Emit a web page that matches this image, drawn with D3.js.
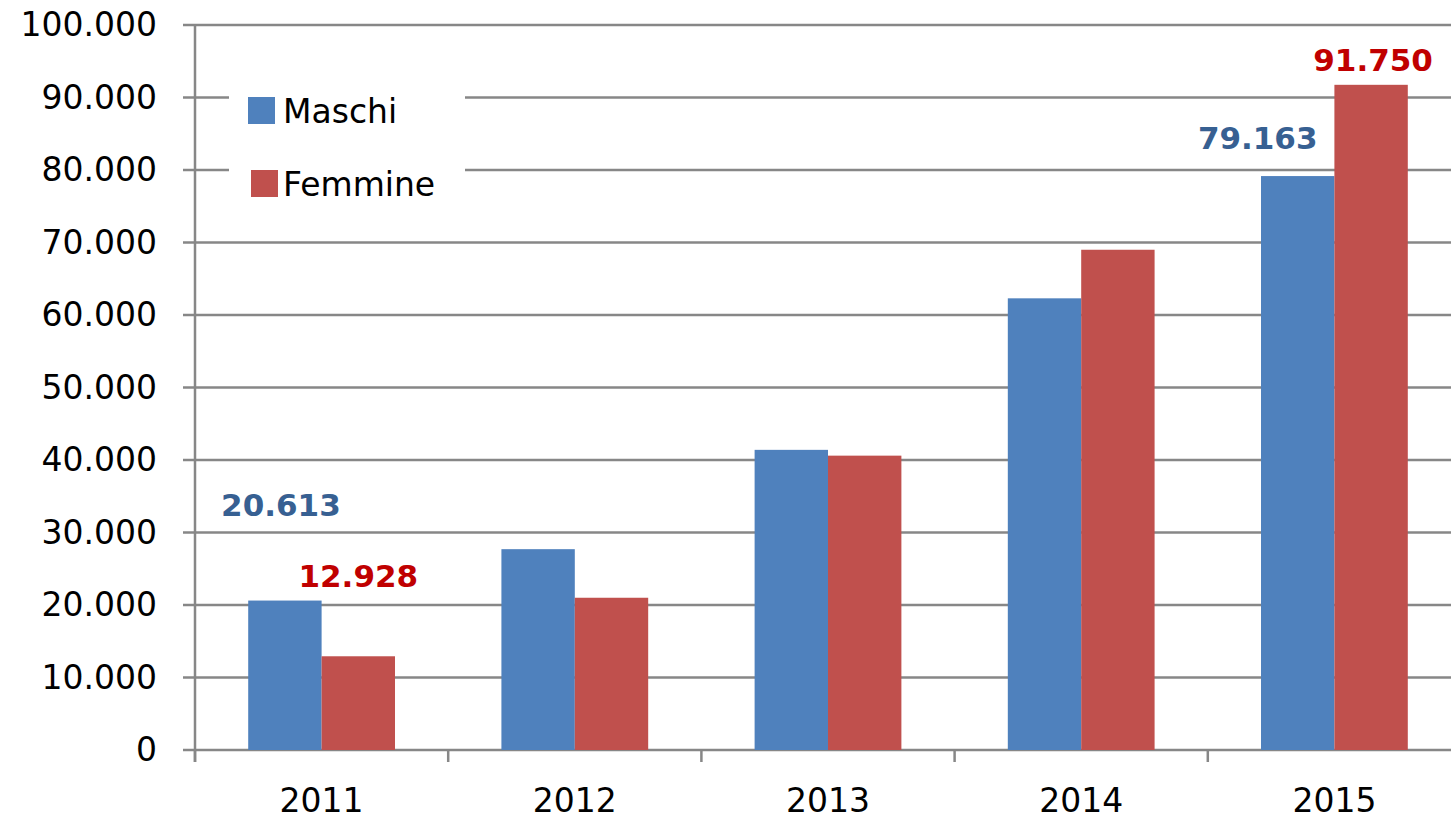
<!DOCTYPE html>
<html>
<head>
<meta charset="utf-8">
<title>Maschi / Femmine 2011-2015</title>
<script src="https://cdnjs.cloudflare.com/ajax/libs/d3/7.8.5/d3.min.js"></script>
<style>
	body { margin: 0; background: #fff; }
	svg { display: block; font-family: "DejaVu Sans", sans-serif; }
</style>
</head>
<body>
<svg id="chart" width="1451" height="821"></svg>
<script>

	var years = ["2011", "2012", "2013", "2014", "2015"];
	var maschi = [20613, 27700, 41400, 62300, 79163];
	var femmine = [12928, 21000, 40600, 69000, 91750];
	var seriesNames = ["Maschi", "Femmine"];
	var yTicks = [0, 10000, 20000, 30000, 40000, 50000, 60000, 70000, 80000, 90000, 100000];

	// values shown as labels: [series index, year index]
	var labelled = [[0, 0], [1, 0], [0, 4], [1, 4]];

	var colors = ["#4F81BD", "#C0504D"];
	var labelColors = ["#376092", "#C00000"];
	var gridColor = "#878787";

	var svg = d3.select("#chart"),
		margin = {top: 25, right: -10, bottom: 71, left: 195},
		width = +svg.attr("width") - margin.left - margin.right,
		height = +svg.attr("height") - margin.top - margin.bottom,
		g = svg.append("g").attr("transform", "translate(" + margin.left + "," + margin.top + ")");

	var x = d3.scaleBand()
		.domain(years)
		.range([0, width]);

	// Excel-like gap width: 2 bars + 1.45 bar gap per category
	var barW = x.bandwidth() / 3.45;
	var x1 = d3.scaleBand()
		.domain(seriesNames)
		.range([0, barW * 2]);

	var y = d3.scaleLinear()
		.domain([0, 100000])
		.range([height, 0]);

	var fmt = function(v) { return d3.format(",")(v).replace(/,/g, "."); };

	// gridlines
	g.append("g")
		.selectAll("line")
		.data(yTicks)
		.enter().append("line")
		.attr("x1", -12)
		.attr("x2", width)
		.attr("y1", function(d) { return y(d); })
		.attr("y2", function(d) { return y(d); })
		.attr("stroke", gridColor)
		.attr("stroke-width", 2.5);

	// y axis
	var yAxis = g.append("g")
		.call(d3.axisLeft(y).tickValues(yTicks).tickSize(0).tickPadding(38).tickFormat(fmt));
	yAxis.select(".domain").remove();
	yAxis.selectAll("text")
		.attr("font-size", "33px")
		.attr("fill", "#000")
		.attr("font-family", "DejaVu Sans, sans-serif");

	g.append("line")
		.attr("x1", 0).attr("x2", 0)
		.attr("y1", 0).attr("y2", height + 12)
		.attr("stroke", gridColor)
		.attr("stroke-width", 2.5);

	// x axis ticks at category boundaries
	g.append("g")
		.selectAll("line")
		.data(years)
		.enter().append("line")
		.attr("x1", function(d) { return x(d); })
		.attr("x2", function(d) { return x(d); })
		.attr("y1", height)
		.attr("y2", height + 12)
		.attr("stroke", gridColor)
		.attr("stroke-width", 2.5);

	g.append("g")
		.selectAll("text")
		.data(years)
		.enter().append("text")
		.attr("x", function(d) { return x(d) + x.bandwidth() / 2; })
		.attr("y", height + 62)
		.attr("text-anchor", "middle")
		.attr("font-size", "33px")
		.attr("fill", "#000")
		.text(function(d) { return d; });

	// bars
	var series = [maschi, femmine];
	var groups = g.append("g")
		.selectAll("g")
		.data(years)
		.enter().append("g")
		.attr("transform", function(d) { return "translate(" + (x(d) + x.bandwidth() / 2 - barW) + ",0)"; });

	groups.selectAll("rect")
		.data(function(d, i) { return series.map(function(s, k) { return {name: seriesNames[k], value: s[i], k: k}; }); })
		.enter().append("rect")
		.attr("x", function(d) { return x1(d.name); })
		.attr("width", x1.bandwidth())
		.attr("y", function(d) { return y(d.value); })
		.attr("height", function(d) { return height - y(d.value); })
		.attr("fill", function(d) { return colors[d.k]; });

	// data labels (offsets picked by hand like the original)
	var labelOffsets = [[-4, -85], [0, -69], [-40, -27], [2, -14]];
	g.append("g")
		.selectAll("text")
		.data(labelled)
		.enter().append("text")
		.attr("x", function(d, i) {
			return x(years[d[1]]) + x.bandwidth() / 2 - barW + x1(seriesNames[d[0]]) + barW / 2 + labelOffsets[i][0];
		})
		.attr("y", function(d, i) { return y(series[d[0]][d[1]]) + labelOffsets[i][1]; })
		.attr("text-anchor", "middle")
		.attr("font-size", "31px")
		.attr("font-weight", "bold")
		.attr("fill", function(d) { return labelColors[d[0]]; })
		.text(function(d) { return fmt(series[d[0]][d[1]]); });

	// legend
	var legend = g.append("g").attr("transform", "translate(34,45)");
	legend.append("rect")
		.attr("width", 236)
		.attr("height", 160)
		.attr("fill", "#fff");

	var items = legend.selectAll("g.item")
		.data(seriesNames)
		.enter().append("g")
		.attr("class", "item")
		.attr("transform", function(d, i) { return "translate(0," + (i * 73) + ")"; });

	items.append("rect")
		.attr("x", function(d, i) { return 19 + i * 3; })
		.attr("y", 27)
		.attr("width", 27)
		.attr("height", 27)
		.attr("fill", function(d, i) { return colors[i]; });

	items.append("text")
		.attr("x", 54)
		.attr("y", 53)
		.attr("font-size", "33px")
		.attr("fill", "#000")
		.text(function(d) { return d; });

</script>
</body>
</html>
